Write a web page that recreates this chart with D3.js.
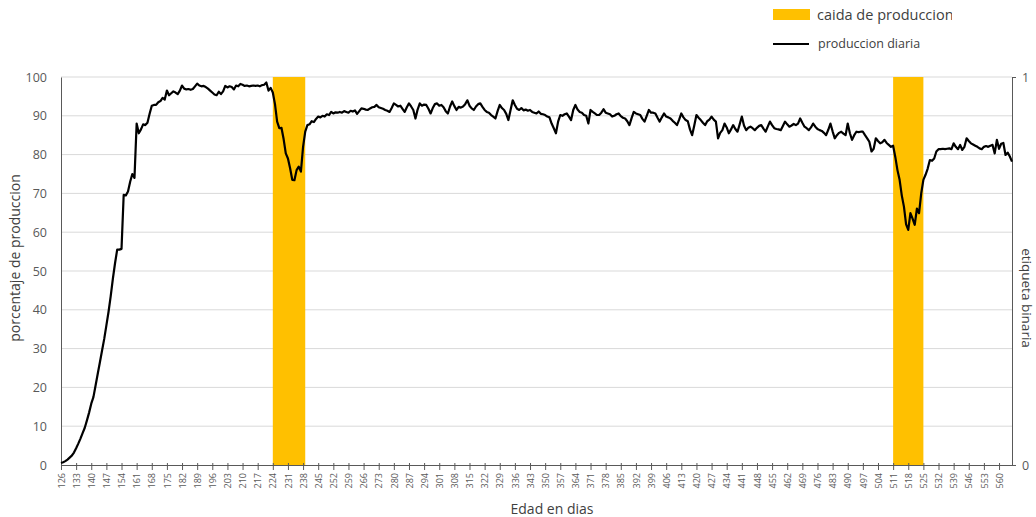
<!DOCTYPE html>
<html>
<head>
<meta charset="utf-8">
<script src="https://d3js.org/d3.v7.min.js"></script>
<style>
  body { margin: 0; background: #fff; }
  text { font-family: "Open Sans", sans-serif; }
</style>
</head>
<body>
  <div id="my_dataviz"></div>
  <script>
    // daily production (%) from day 126 to day 566
    var primerDia = 126;
    var produccion = [
      0.5, 0.7, 1.0, 1.4, 1.9, 2.4, 3.2, 4.3, 5.5, 6.8,
      8.2, 9.6, 11.5, 13.5, 15.8, 17.5, 20.5, 23.5, 26.5, 29.5,
      32.5, 36, 39.5, 43.5, 48, 52, 55.5, 55.5, 55.7, 69.6,
      69.5, 70.5, 73, 75, 74, 88, 85.5, 86.5, 87.8, 87.6,
      88.2, 90.5, 92.6, 92.8, 92.8, 93.5, 93.8, 94.6, 94.2, 96.5,
      95.3, 95.8, 96.3, 96.0, 95.6, 96.5, 97.8, 97.0, 96.8, 96.9,
      96.7, 96.9, 97.6, 98.3, 97.8, 97.6, 97.7, 97.4, 97.0, 96.5,
      96.0, 95.5, 95.3, 96.2, 95.6, 96.3, 97.7, 97.3, 97.6, 97.4,
      96.8, 97.8, 97.6, 98.2, 98.0, 97.7, 97.8, 97.6, 97.7, 97.8,
      97.7, 97.8, 97.6, 97.9, 98.0, 98.6, 96.5, 97.2, 96.0, 93.0,
      88.5, 86.8, 86.9, 84.0, 80.3, 79.0, 76.5, 73.5, 73.4, 76.0,
      76.9, 75.6, 82.0, 85.9, 87.6, 87.8, 88.6, 88.4, 89.2, 89.8,
      89.6, 90.0, 89.8, 90.4, 90.2, 91.0, 90.6, 90.9, 90.8, 91.0,
      90.8, 91.2, 91.0, 90.8, 91.3, 91.1, 91.4, 90.5, 91.2, 91.9,
      91.8, 91.6, 91.5, 91.9, 92.2, 92.3, 92.8, 92.2, 92.0, 91.8,
      91.5, 91.3, 91.0, 92.0, 93.2, 92.8, 92.4, 92.6, 91.8, 91.0,
      92.2, 93.2, 92.4, 91.5, 89.3, 91.6, 93.2, 92.6, 92.9, 92.8,
      91.8, 90.6, 92.0, 93.0, 93.2, 92.6, 92.8, 92.2, 91.2, 90.6,
      92.4, 93.7, 92.5, 91.5, 92.3, 92.1, 92.4, 93.0, 94.0, 92.6,
      91.9, 91.5, 92.4, 93.0, 93.2, 92.3, 91.5, 91.0, 90.8, 90.2,
      89.8, 89.3, 91.2, 92.8, 92.0, 91.5, 90.5, 88.9, 91.5, 94.0,
      92.8, 91.8, 91.5, 92.0, 91.4, 91.6, 91.3, 91.5, 91.0, 90.8,
      90.6, 91.1, 90.5, 90.4, 90.2, 89.8, 89.6, 88.0, 86.8, 85.5,
      88.5, 90.2, 90.0, 90.4, 90.6, 89.8, 88.9, 91.5, 92.8, 91.6,
      91.0, 90.8, 90.2, 90.0, 88.0, 91.5, 91.0, 90.6, 90.2, 90.2,
      90.8, 91.7, 90.8, 90.6, 90.4, 89.8, 90.0, 90.4, 90.6, 89.9,
      89.5, 89.3, 88.6, 87.6, 89.4, 91.0, 90.6, 90.4, 90.2, 89.2,
      88.5, 90.0, 91.5, 90.8, 90.8, 90.6, 89.5, 88.5, 89.6, 90.6,
      89.8, 89.6, 89.3, 88.7, 88.2, 87.6, 89.0, 90.6, 89.6, 88.9,
      88.6, 86.5, 85.0, 87.5, 90.2, 89.5, 88.9, 88.2, 87.6, 88.6,
      89.0, 89.8, 89.0, 88.5, 84.2, 85.6, 86.3, 88.0, 87.0, 85.5,
      86.5, 87.6, 86.6, 85.9, 87.8, 89.8, 87.5, 86.3, 86.9, 87.2,
      86.8, 86.3, 86.9, 87.4, 87.6, 86.7, 85.9, 87.2, 88.5, 87.6,
      86.8, 86.6, 86.5, 86.3, 87.4, 88.5, 87.8, 87.2, 87.5, 87.9,
      87.6, 88.0, 89.3, 88.2, 87.2, 86.8, 86.3, 87.0, 88.0, 87.2,
      86.6, 86.3, 86.1, 85.6, 85.0, 86.4, 88.0, 86.0, 84.2, 85.0,
      85.6, 85.9, 85.4, 85.0, 88.0, 85.5, 83.8, 85.0, 85.9, 85.8,
      85.9, 85.9, 85.0, 84.2, 83.3, 80.8, 81.5, 84.2, 83.5, 82.9,
      83.2, 83.8, 83.0, 82.5, 82.0, 82.3, 79.4, 76.0, 73.5, 69.5,
      66.6, 62.0, 60.6, 64.9, 63.5, 61.9, 66.1, 64.9, 70.0, 73.5,
      74.8, 76.4, 78.6, 78.4, 79.0, 80.8, 81.4, 81.4, 81.5, 81.4,
      81.5, 81.6, 81.4, 82.9, 82.0, 81.4, 82.5, 81.2, 82.0, 84.2,
      83.5, 82.9, 82.6, 82.3, 82.0, 81.6, 81.4, 82.0, 82.2, 82.0,
      82.3, 82.5, 80.3, 83.8, 81.5, 82.8, 83.0, 79.9, 80.5, 79.5,
      78.2
    ];
    // production drop periods (etiqueta binaria = 1)
    var caidaInicio = [224, 511];
    var caidaFin = [239, 525];
    var yTicks = [0, 10, 20, 30, 40, 50, 60, 70, 80, 90, 100];
    var xTicks = d3.range(126, 561, 7);

    var width = 1036, height = 517;
    var margin = {top: 77, right: 24, bottom: 52, left: 61};

    var svg = d3.select("#my_dataviz")
      .append("svg")
      .attr("width", width)
      .attr("height", height);

    var datos = produccion.map(function(v, i) { return {dia: primerDia + i, valor: v}; });

    var x = d3.scaleLinear()
      .domain([primerDia, primerDia + produccion.length - 1])
      .range([margin.left, width - margin.right]);
    var y = d3.scaleLinear().domain([0, 100]).range([height - margin.bottom, margin.top]);
    var y2 = d3.scaleLinear().domain([0, 1]).range([height - margin.bottom, margin.top]);

    // grid
    svg.append("g")
      .selectAll("line")
      .data(yTicks.slice(1))
      .enter()
      .append("line")
      .attr("x1", margin.left)
      .attr("x2", width - margin.right)
      .attr("y1", function(d) { return y(d); })
      .attr("y2", function(d) { return y(d); })
      .style("stroke", "#d9d9d9")
      .style("stroke-width", 1);

    // drop bars on secondary axis
    svg.append("g")
      .selectAll("rect")
      .data(caidaInicio)
      .enter()
      .append("rect")
      .attr("x", function(d) { return x(d); })
      .attr("width", function(d, i) { return x(caidaFin[i]) - x(d); })
      .attr("y", y2(1))
      .attr("height", y2(0) - y2(1))
      .style("fill", "#ffc000");

    // left axis
    var ejeY = svg.append("g")
      .attr("transform", "translate(" + margin.left + ",0)")
      .call(d3.axisLeft(y).tickValues(yTicks).tickSize(0).tickPadding(14));
    ejeY.select(".domain").style("stroke", "#595959");
    ejeY.selectAll("text").style("font-size", "12.5px").style("fill", "#595959")
      .style("font-family", "'Open Sans', sans-serif");

    // right axis
    var ejeY2 = svg.append("g")
      .attr("transform", "translate(" + (width - margin.right) + ",0)")
      .call(d3.axisRight(y2).tickValues([0, 1]).tickFormat(d3.format("d")).tickSize(4).tickPadding(6));
    ejeY2.select(".domain").style("stroke", "#595959");
    ejeY2.selectAll("line").style("stroke", "#595959");
    ejeY2.selectAll("text").style("font-size", "12.5px").style("fill", "#595959")
      .style("font-family", "'Open Sans', sans-serif");

    // bottom axis
    var ejeX = svg.append("g")
      .attr("transform", "translate(0," + (height - margin.bottom) + ")")
      .call(d3.axisBottom(x).tickValues(xTicks).tickSize(5).tickSizeOuter(0).tickPadding(3));
    ejeX.select(".domain").style("stroke", "#595959");
    ejeX.selectAll("line").style("stroke", "#595959").attr("y1", -2);
    ejeX.selectAll("text")
      .style("font-size", "9px").style("fill", "#595959")
      .style("font-family", "'Open Sans', sans-serif")
      .attr("transform", "rotate(-90)")
      .attr("text-anchor", "end")
      .attr("dy", "0.35em")
      .attr("x", -8)
      .attr("y", 0);

    // line
    var linea = d3.line()
      .x(function(d) { return x(d.dia); })
      .y(function(d) { return y(d.valor); });
    svg.append("path")
      .datum(datos)
      .attr("d", linea)
      .style("fill", "none")
      .style("stroke", "#000")
      .style("stroke-width", 2.2)
      .style("stroke-linejoin", "round");

    // axis titles
    svg.append("text")
      .attr("x", 552).attr("y", 514)
      .attr("text-anchor", "middle")
      .style("font-size", "14px").style("fill", "#404040")
      .text("Edad en dias");
    svg.append("text")
      .attr("transform", "translate(20,258) rotate(-90)")
      .attr("text-anchor", "middle")
      .style("font-size", "14px").style("fill", "#404040")
      .text("porcentaje de produccion");
    svg.append("text")
      .attr("transform", "translate(1022,298) rotate(90)")
      .attr("text-anchor", "middle")
      .style("font-size", "13.5px").style("fill", "#404040")
      .text("etiqueta binaria");

    // legend
    svg.append("clipPath").attr("id", "recorte")
      .append("rect").attr("x", 760).attr("y", 0).attr("width", 192).attr("height", 60);
    var leyenda = svg.append("g").attr("clip-path", "url(#recorte)");
    leyenda.append("rect")
      .attr("x", 773).attr("y", 9).attr("width", 37).attr("height", 11)
      .style("fill", "#ffc000");
    leyenda.append("text")
      .attr("x", 817).attr("y", 20)
      .style("font-size", "14.5px").style("fill", "#404040")
      .text("caida de produccion");
    leyenda.append("line")
      .attr("x1", 773).attr("x2", 809).attr("y1", 44).attr("y2", 44)
      .style("stroke", "#000").style("stroke-width", 2);
    leyenda.append("text")
      .attr("x", 818).attr("y", 48)
      .style("font-size", "12.5px").style("fill", "#404040")
      .text("produccion diaria");
  </script>
</body>
</html>
